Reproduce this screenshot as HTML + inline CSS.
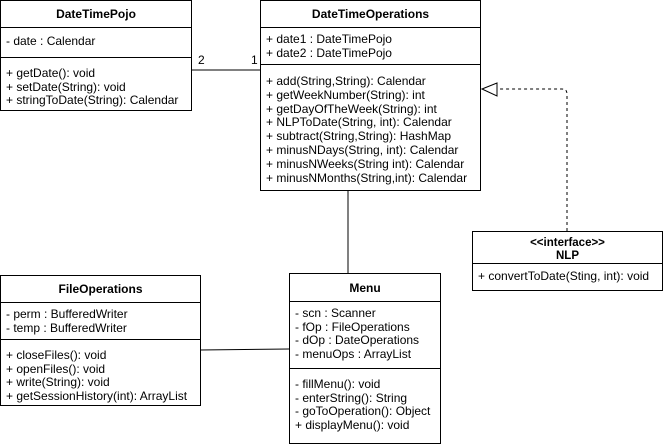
<!DOCTYPE html><html><head><style>
body{margin:0;width:663px;height:447px;background:#fff;position:relative;font-family:"Liberation Sans",Arial,sans-serif;font-size:12px;color:#000;overflow:hidden}
.b{position:absolute;border:1px solid #000;box-sizing:border-box;background:#fff}
.h{font-weight:bold;text-align:center;font-size:12px;border-bottom:1px solid #000;box-sizing:border-box}
.s{border-bottom:1px solid #000;box-sizing:border-box;padding:0 0 0 5px;line-height:13.6px;white-space:nowrap}
.m{padding:0 0 0 5px;line-height:13.6px;white-space:nowrap}
.t{position:absolute;font-size:12px}
</style></head><body>
<svg style="position:absolute;left:0;top:0" width="663" height="447">
<line x1="191" y1="70" x2="260" y2="70" stroke="#000"/>
<line x1="348" y1="190" x2="348" y2="273" stroke="#000"/>
<line x1="200" y1="350" x2="289" y2="349" stroke="#000"/>
<path d="M567 231 L567 94 Q567 89 562 89 L497 89" fill="none" stroke="#000" stroke-dasharray="3,3"/>
<polygon points="482,89 497,83 497,96" fill="#fff" stroke="#000"/>
</svg>
<span class="t" style="left:198px;top:53px">2</span>
<span class="t" style="left:251px;top:53px">1</span>
<div class="b" style="left:0;top:0;width:192px;height:111px">
<div class="h" style="height:27px;line-height:27px">DateTimePojo</div>
<div class="s" style="height:30px;padding-top:7px">- date : Calendar</div>
<div class="m" style="padding-top:9px">+ getDate(): void<br>+ setDate(String): void<br>+ stringToDate(String): Calendar</div>
</div>
<div class="b" style="left:260px;top:0;width:221px;height:191px">
<div class="h" style="height:27px;line-height:27px">DateTimeOperations</div>
<div class="s" style="height:37px;padding-top:5px">+ date1 : DateTimePojo<br>+ date2 : DateTimePojo</div>
<div class="m" style="padding-top:10px;line-height:13.8px">+ add(String,String): Calendar<br>+ getWeekNumber(String): int<br>+ getDayOfTheWeek(String): int<br>+ NLPToDate(String, int): Calendar<br>+ subtract(String,String): HashMap<br>+ minusNDays(String, int): Calendar<br>+ minusNWeeks(String int): Calendar<br>+ minusNMonths(String,int): Calendar</div>
</div>
<div class="b" style="left:472px;top:231px;width:191px;height:60px">
<div class="h" style="height:32px;line-height:13px;padding-top:5px;font-size:11.5px">&lt;&lt;interface&gt;&gt;<br>NLP</div>
<div class="m" style="padding-top:6px">+ convertToDate(Sting, int): void</div>
</div>
<div class="b" style="left:0;top:275px;width:201px;height:131px">
<div class="h" style="height:27px;line-height:27px">FileOperations</div>
<div class="s" style="height:37px;padding-top:5px">- perm : BufferedWriter<br>- temp : BufferedWriter</div>
<div class="m" style="padding-top:9px">+ closeFiles(): void<br>+ openFiles(): void<br>+ write(String): void<br>+ getSessionHistory(int): ArrayList</div>
</div>
<div class="b" style="left:289px;top:273px;width:152px;height:171px">
<div class="h" style="height:28px;line-height:28px">Menu</div>
<div class="s" style="height:67px;padding-top:5px">- scn : Scanner<br>- fOp : FileOperations<br>- dOp : DateOperations<br>- menuOps : ArrayList</div>
<div class="m" style="padding-top:9px">- fillMenu(): void<br>- enterString(): String<br>- goToOperation(): Object<br>+ displayMenu(): void</div>
</div>
</body></html>
